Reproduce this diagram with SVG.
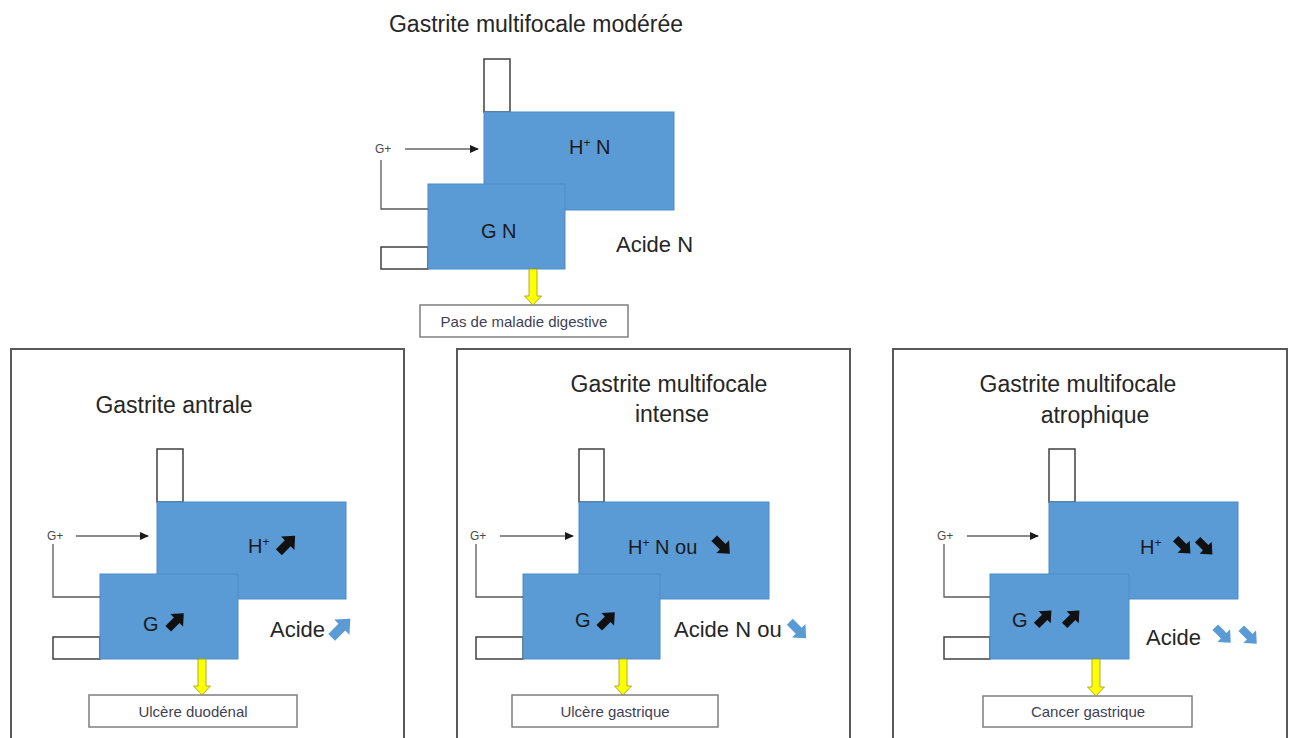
<svg xmlns="http://www.w3.org/2000/svg" width="1291" height="738" viewBox="0 0 1291 738">
  <style>
    .title { font-family: "Liberation Sans", Arial, sans-serif; font-size: 23px; fill: #262626; }
    .lbl { font-family: "Liberation Sans", Arial, sans-serif; font-size: 20px; fill: #1a1a1a; }
    .acid { font-family: "Liberation Sans", Arial, sans-serif; font-size: 22px; fill: #262626; }
    .small { font-family: "Liberation Sans", Arial, sans-serif; font-size: 12px; fill: #4a4a4a; }
    .out { font-family: "Liberation Sans", Arial, sans-serif; font-size: 15px; fill: #3f3f55; text-anchor: middle; }
    .sup { font-size: 12px; }
    .panel { fill: none; stroke: #595959; stroke-width: 2; }
    .cell { fill: #5B9BD5; stroke: #4f8cc6; stroke-width: 1; }
    .stub { fill: #ffffff; stroke: #404040; stroke-width: 1.5; }
    .box { fill: #ffffff; stroke: #7f7f7f; stroke-width: 1.5; }
    .fb { fill: none; stroke: #595959; stroke-width: 1.3; }
    .ptr { fill: none; stroke: #1a1a1a; stroke-width: 1.2; marker-end: url(#tip); }
    .flow { fill: #ffff00; stroke: #9a9a20; stroke-width: 0.8; }
    .blk { fill: #111111; }
    .blu { fill: #5B9BD5; }
  </style>
  <defs>
    <marker id="tip" markerUnits="userSpaceOnUse" markerWidth="9" markerHeight="8" refX="8" refY="4" orient="auto">
      <path d="M0,0 L9,4 L0,8 Z" fill="#1a1a1a"/>
    </marker>
    <!-- chunky block arrow pointing right, centred on the origin -->
    <path id="bigArrow" d="M-11,-4 L1,-4 L1,-9 L11,0 L1,9 L1,4 L-11,4 Z"/>
  </defs>

  <rect width="1291" height="738" fill="#ffffff"/>

  <!-- panel frames -->
  <g id="frames">
    <rect class="panel" x="11" y="349" width="393" height="400"/>
    <rect class="panel" x="457" y="349" width="393" height="400"/>
    <rect class="panel" x="893" y="349" width="394" height="400"/>
  </g>

  <!-- titles -->
  <g id="titles">
    <text class="title" x="536" y="32" text-anchor="middle">Gastrite multifocale modérée</text>
    <text class="title" x="174" y="413" text-anchor="middle">Gastrite antrale</text>
    <text class="title" x="669" y="392" text-anchor="middle">Gastrite multifocale</text>
    <text class="title" x="672" y="422" text-anchor="middle">intense</text>
    <text class="title" x="1078" y="392" text-anchor="middle">Gastrite multifocale</text>
    <text class="title" x="1095" y="423" text-anchor="middle">atrophique</text>
  </g>

  <!-- ===== moderate multifocal gastritis ===== -->
  <g id="top-fundus">
    <rect class="stub" x="484" y="59" width="26" height="53"/>
    <rect class="cell" x="484" y="112" width="190" height="98"/>
    <text class="lbl" x="569" y="154">H<tspan class="sup" dy="-7">+</tspan><tspan dy="7"> N</tspan></text>
  </g>
  <g id="top-antrum">
    <rect class="stub" x="381" y="247" width="47" height="22"/>
    <rect class="cell" x="428" y="184" width="137" height="85"/>
    <text class="lbl" x="481" y="238">G N</text>
  </g>
  <g id="top-acid">
    <text class="acid" x="616" y="252">Acide N</text>
  </g>
  <g id="top-gplus">
    <text class="small" x="375" y="153">G+</text>
  </g>
  <g id="top-outcome">
    <rect class="box" x="420" y="305" width="208" height="32"/>
    <text class="out" x="524" y="327">Pas de maladie digestive</text>
  </g>

  <!-- ===== antral gastritis ===== -->
  <g id="p1-fundus">
    <rect class="stub" x="157" y="449" width="26" height="53"/>
    <rect class="cell" x="157" y="502" width="189" height="97"/>
    <text class="lbl" x="248" y="553">H<tspan class="sup" dy="-7">+</tspan></text>
    <use href="#bigArrow" class="blk" transform="translate(287,544) rotate(-45) scale(1.05)"/>
  </g>
  <g id="p1-antrum">
    <rect class="stub" x="53" y="637" width="47" height="22"/>
    <rect class="cell" x="100" y="574" width="138" height="85"/>
    <text class="lbl" x="143" y="631">G</text>
    <use href="#bigArrow" class="blk" transform="translate(176,621) rotate(-45)"/>
  </g>
  <g id="p1-acid">
    <text class="acid" x="270" y="637">Acide</text>
    <use href="#bigArrow" class="blu" transform="translate(341,628) rotate(-45) scale(1.2)"/>
  </g>
  <g id="p1-gplus">
    <text class="small" x="47" y="540">G+</text>
  </g>
  <g id="p1-outcome">
    <rect class="box" x="89" y="695" width="208" height="32"/>
    <text class="out" x="193" y="717">Ulcère duodénal</text>
  </g>

  <!-- ===== intense multifocal gastritis ===== -->
  <g id="p2-fundus">
    <rect class="stub" x="579" y="449" width="25" height="53"/>
    <rect class="cell" x="579" y="502" width="190" height="97"/>
    <text class="lbl" x="628" y="554">H<tspan class="sup" dy="-7">+</tspan><tspan dy="7"> N ou</tspan></text>
    <use href="#bigArrow" class="blk" transform="translate(722,546) rotate(45)"/>
  </g>
  <g id="p2-antrum">
    <rect class="stub" x="476" y="637" width="47" height="22"/>
    <rect class="cell" x="523" y="574" width="137" height="85"/>
    <text class="lbl" x="575" y="627">G</text>
    <use href="#bigArrow" class="blk" transform="translate(607,620) rotate(-45)"/>
  </g>
  <g id="p2-acid">
    <text class="acid" x="674" y="637">Acide N ou</text>
    <use href="#bigArrow" class="blu" transform="translate(798,630) rotate(45) scale(1.05)"/>
  </g>
  <g id="p2-gplus">
    <text class="small" x="470" y="540">G+</text>
  </g>
  <g id="p2-outcome">
    <rect class="box" x="512" y="695" width="206" height="32"/>
    <text class="out" x="615" y="717">Ulcère gastrique</text>
  </g>

  <!-- ===== atrophic multifocal gastritis ===== -->
  <g id="p3-fundus">
    <rect class="stub" x="1049" y="449" width="26" height="53"/>
    <rect class="cell" x="1049" y="502" width="189" height="97"/>
    <text class="lbl" x="1140" y="554">H<tspan class="sup" dy="-7">+</tspan></text>
    <use href="#bigArrow" class="blk" transform="translate(1183,546) rotate(45) scale(0.95)"/>
    <use href="#bigArrow" class="blk" transform="translate(1205,547) rotate(45) scale(0.95)"/>
  </g>
  <g id="p3-antrum">
    <rect class="stub" x="944" y="637" width="46" height="22"/>
    <rect class="cell" x="990" y="574" width="139" height="85"/>
    <text class="lbl" x="1012" y="627">G</text>
    <use href="#bigArrow" class="blk" transform="translate(1044,618) rotate(-45) scale(0.95)"/>
    <use href="#bigArrow" class="blk" transform="translate(1072,618) rotate(-45) scale(0.95)"/>
  </g>
  <g id="p3-acid">
    <text class="acid" x="1146" y="645">Acide</text>
    <use href="#bigArrow" class="blu" transform="translate(1223,635) rotate(45)"/>
    <use href="#bigArrow" class="blu" transform="translate(1249,636) rotate(45)"/>
  </g>
  <g id="p3-gplus">
    <text class="small" x="937" y="540">G+</text>
  </g>
  <g id="p3-outcome">
    <rect class="box" x="983" y="696" width="209" height="31"/>
    <text class="out" x="1088" y="717">Cancer gastrique</text>
  </g>

  <!-- connectors: gastrin feedback, stimulation arrows, outcome arrows -->
  <g id="connectors">
    <path class="fb" d="M428,209 H381 V160"/>
    <line class="ptr" x1="405" y1="149" x2="478" y2="149"/>
    <path class="flow" d="M529,269 V296 H524.5 L533,305 L541.5,296 H537 V269 Z"/>

    <path class="fb" d="M100,597 H53 V544"/>
    <line class="ptr" x1="76" y1="536" x2="148" y2="536"/>
    <path class="flow" d="M198,659 V686 H193.5 L202,695 L210.5,686 H206 V659 Z"/>

    <path class="fb" d="M523,597 H476 V544"/>
    <line class="ptr" x1="500" y1="536" x2="573" y2="536"/>
    <path class="flow" d="M619,659 V686 H614.5 L623,695 L631.5,686 H627 V659 Z"/>

    <path class="fb" d="M990,597 H944 V544"/>
    <line class="ptr" x1="967" y1="536" x2="1038" y2="536"/>
    <path class="flow" d="M1092,659 V687 H1087.5 L1096,696 L1104.5,687 H1100 V659 Z"/>
  </g>
</svg>
